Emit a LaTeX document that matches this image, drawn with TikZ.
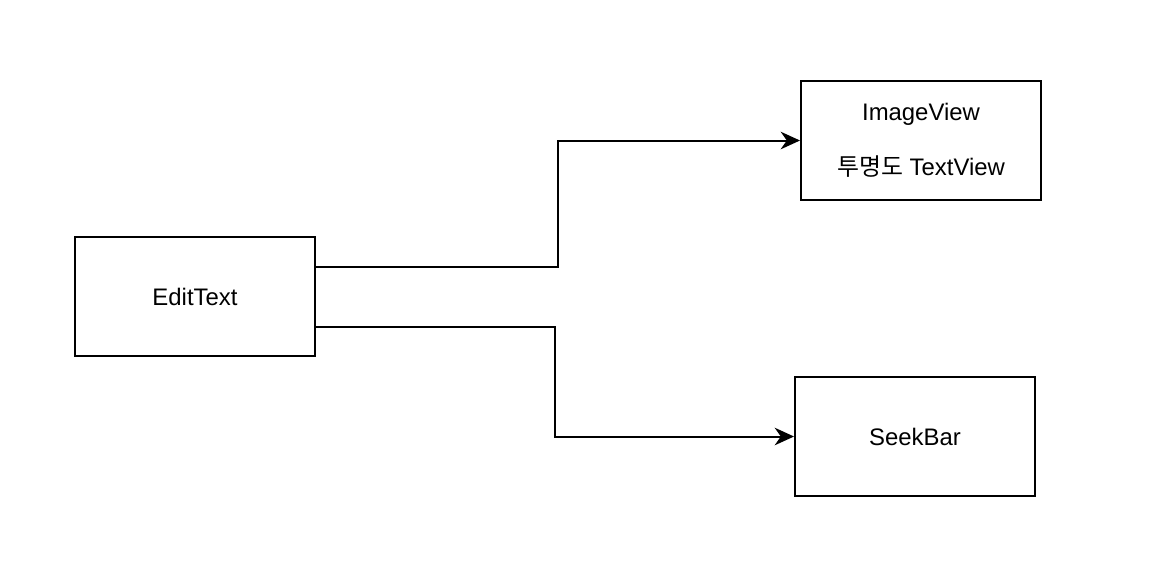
\documentclass[tikz,border=0pt]{standalone}
\usepackage{fontspec}
\setmainfont{Liberation Sans}
\newfontfamily\krfont{Noto Sans CJK KR}
\usepackage{tikz}
\usetikzlibrary{arrows.meta, positioning, calc}

\begin{document}
\begin{tikzpicture}[
  widget/.style={draw, line width=1.13pt, minimum width=4.8cm, minimum height=2.38cm, align=center, font=\fontsize{13.6}{15.6}\selectfont},
  flow/.style={line width=1.13pt, -{Stealth[length=11pt, width=10pt, inset=3.5pt]}}
]
  % Page frame
  \useasboundingbox (0, 0) rectangle (23.04, -11.48);

  % Widgets
  \node[widget] (edit) at (3.9, -5.93) {EditText};
  \node[widget] (img) at (18.42, -2.81) {ImageView\\[15.6pt]{\krfont 투명도} TextView};
  \node[widget] (seek) at (18.3, -8.73) {SeekBar};

  % Arrows
  \draw[flow] ([yshift=0.6cm]edit.east) -- ++(4.84, 0) |- (img.west);
  \draw[flow] ([yshift=-0.6cm]edit.east) -- ++(4.78, 0) |- (seek.west);

\end{tikzpicture}
\end{document}
